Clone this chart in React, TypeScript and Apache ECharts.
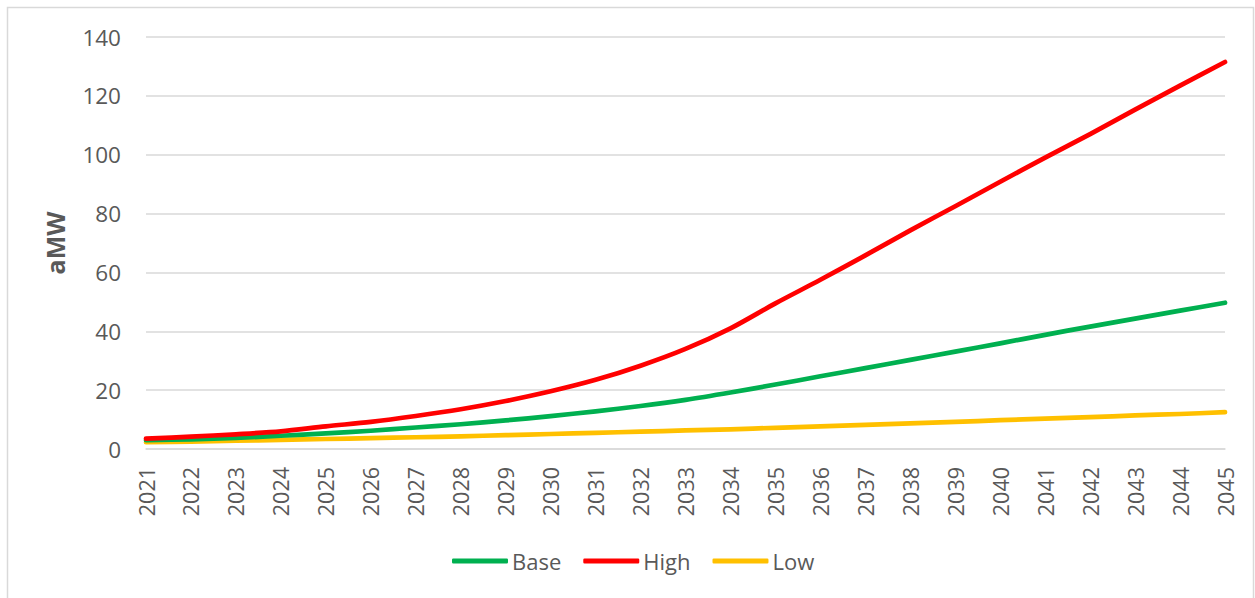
import React, { useEffect, useRef } from "react";
import * as echarts from "echarts";

const years = [
  "2021", "2022", "2023", "2024", "2025", "2026", "2027", "2028", "2029", "2030",
  "2031", "2032", "2033", "2034", "2035", "2036", "2037", "2038", "2039", "2040",
  "2041", "2042", "2043", "2044", "2045",
];

const baseValues = [
  3.0, 3.3, 3.8, 4.5, 5.3, 6.2, 7.3, 8.4, 9.7, 11.2,
  12.8, 14.6, 16.7, 19.2, 21.9, 24.7, 27.5, 30.3, 33.1, 35.9,
  38.8, 41.6, 44.3, 47.0, 49.7,
];

const highValues = [
  3.5, 4.2, 5.0, 6.0, 7.7, 9.2, 11.2, 13.5, 16.3, 19.6,
  23.5, 28.3, 34.0, 41.0, 49.5, 57.5, 65.8, 74.3, 82.5, 90.8,
  99.0, 107.0, 115.3, 123.5, 131.5,
];

const lowValues = [
  2.3, 2.5, 2.8, 3.1, 3.4, 3.7, 4.0, 4.3, 4.7, 5.1,
  5.5, 5.9, 6.3, 6.7, 7.2, 7.7, 8.2, 8.7, 9.2, 9.8,
  10.3, 10.8, 11.4, 11.9, 12.5,
];

const seriesNames = ["Base", "High", "Low"];
const seriesColors = ["#00B050", "#FF0000", "#FFC000"];

const FONT = "'Open Sans', 'Noto Sans', sans-serif";
const TEXT_COLOR = "#595959";
const GRID_COLOR = "#d9d9d9";

export default function App() {
  const ref = useRef<HTMLDivElement>(null);

  useEffect(() => {
    if (!ref.current) return;
    const chart = echarts.init(ref.current, undefined, { renderer: "svg" });
    const values = [baseValues, highValues, lowValues];

    chart.setOption({
      animation: false,
      backgroundColor: "#ffffff",
      textStyle: { fontFamily: FONT },
      graphic: [
        {
          type: "rect",
          shape: { x: 7.5, y: 7.5, width: 1246, height: 620 },
          style: { fill: "none", stroke: GRID_COLOR, lineWidth: 1.5 },
          silent: true,
        },
      ],
      grid: { left: 146, right: 30, top: 37, bottom: 149, containLabel: false },
      legend: {
        data: seriesNames,
        left: 452,
        top: 549,
        padding: 0,
        icon: "roundRect",
        itemWidth: 56,
        itemHeight: 5,
        itemGap: 22,
        textStyle: {
          fontFamily: FONT,
          fontSize: 22,
          color: TEXT_COLOR,
          lineHeight: 24,
          padding: [0, 0, 0, -1],
        },
      },
      xAxis: {
        type: "category",
        data: years,
        boundaryGap: false,
        axisLine: { show: true, lineStyle: { color: GRID_COLOR, width: 1.5 } },
        axisTick: { show: false },
        splitLine: { show: false },
        axisLabel: {
          rotate: 90,
          interval: 0,
          margin: 18,
          fontFamily: FONT,
          fontSize: 21.5,
          color: TEXT_COLOR,
        },
      },
      yAxis: {
        type: "value",
        min: 0,
        max: 140,
        interval: 20,
        name: "aMW",
        nameLocation: "middle",
        nameGap: 79,
        nameTextStyle: {
          fontFamily: FONT,
          fontSize: 25,
          fontWeight: "bold",
          color: TEXT_COLOR,
        },
        axisLine: { show: false },
        axisTick: { show: false },
        splitLine: { show: true, lineStyle: { color: GRID_COLOR, width: 1.5 } },
        axisLabel: {
          margin: 25,
          fontFamily: FONT,
          fontSize: 22.5,
          color: TEXT_COLOR,
        },
      },
      series: seriesNames.map((name, i) => ({
        name,
        type: "line",
        data: values[i],
        smooth: 0.3,
        symbol: "none",
        lineStyle: { color: seriesColors[i], width: 4.7, cap: "round", join: "round" },
        itemStyle: { color: seriesColors[i] },
        z: i === 1 ? 3 : i === 0 ? 2 : 1,
      })),
    });

    return () => chart.dispose();
  }, []);

  return (
    <div
      ref={ref}
      style={{ position: "fixed", left: 0, top: 0, width: 1255, height: 598 }}
    />
  );
}
